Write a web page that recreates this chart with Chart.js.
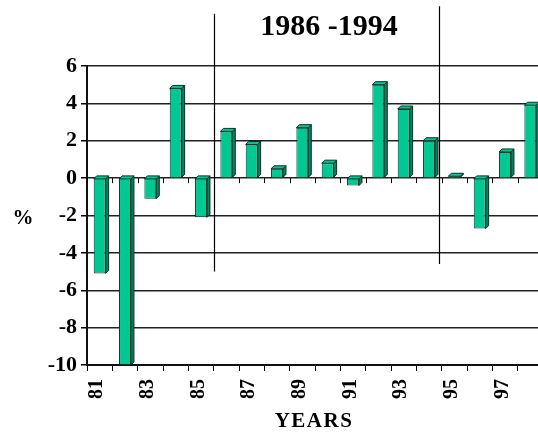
<!DOCTYPE html>
<html>
<head>
<meta charset="utf-8">
<script src="https://cdn.jsdelivr.net/npm/chart.js@4/dist/chart.umd.min.js"></script>
<style>
  html, body { margin: 0; padding: 0; background: #fff; overflow: hidden; }
  #wrap { width: 538px; height: 432px; overflow: hidden; }
  canvas { display: block; }
</style>
</head>
<body>
<div id="wrap"><canvas id="chart" width="546" height="432"></canvas></div>
<script>
// Annual change, per cent
const years = ['81','82','83','84','85','86','87','88','89','90','91','92','93','94','95','96','97','98'];
const changePct = [-5.1, -10, -1.1, 4.8, -2.1, 2.5, 1.8, 0.5, 2.7, 0.8, -0.4, 5.0, 3.7, 2.0, 0.1, -2.7, 1.4, 3.9];
const yTicks = [-10, -8, -6, -4, -2, 0, 2, 4, 6];

// Period marked by two vertical rules and a heading
const periodTitle = '1986 -1994';
const periodFrom = '85';
const periodTo = '94';

const SERIF = "'Liberation Serif', 'Times New Roman', serif";
const FACE = '#00C892';
const SIDE = '#00855C';
const EDGE = '#0E3026';
const DEPTH = 3;

const decor = {
  id: 'decor',
  beforeDatasetsDraw(chart) {
    const { ctx, scales: { x, y } } = chart;
    const zero = y.getPixelForValue(0);
    ctx.save();
    ctx.strokeStyle = '#000';
    ctx.lineWidth = 1;
    // category boundary ticks under the zero line
    for (let i = 0; i <= years.length; i++) {
      const px = Math.round(x.getPixelForValue(i - 0.5)) + 0.5;
      ctx.beginPath();
      ctx.moveTo(px, zero);
      ctx.lineTo(px, zero + 5);
      ctx.stroke();
    }
    ctx.restore();
  },
  afterDatasetsDraw(chart) {
    const { ctx, scales: { x, y } } = chart;
    const meta = chart.getDatasetMeta(0);
    ctx.save();
    ctx.lineWidth = 1;
    ctx.strokeStyle = EDGE;
    meta.data.forEach((bar) => {
      const p = bar.getProps(['x', 'y', 'base', 'width'], true);
      const l = p.x - p.width / 2, r = p.x + p.width / 2;
      const t = Math.min(p.y, p.base), b = Math.max(p.y, p.base);
      // side face
      ctx.fillStyle = SIDE;
      ctx.beginPath();
      ctx.moveTo(r, t); ctx.lineTo(r + DEPTH, t - DEPTH);
      ctx.lineTo(r + DEPTH, b - DEPTH); ctx.lineTo(r, b);
      ctx.closePath(); ctx.fill(); ctx.stroke();
      // top face
      ctx.fillStyle = FACE;
      ctx.beginPath();
      ctx.moveTo(l, t); ctx.lineTo(l + DEPTH, t - DEPTH);
      ctx.lineTo(r + DEPTH, t - DEPTH); ctx.lineTo(r, t);
      ctx.closePath(); ctx.fill(); ctx.stroke();
    });

    // period rules
    const i0 = years.indexOf(periodFrom), i1 = years.indexOf(periodTo);
    const xl = Math.round(x.getPixelForValue(i0 + 0.5)) + 0.5;
    const xr = Math.round(x.getPixelForValue(i1 + 0.38)) + 0.5;
    ctx.strokeStyle = '#000';
    ctx.lineWidth = 1.2;
    ctx.beginPath();
    ctx.moveTo(xl, y.getPixelForValue(8.8)); ctx.lineTo(xl, y.getPixelForValue(-5.0));
    ctx.moveTo(xr, y.getPixelForValue(9.2)); ctx.lineTo(xr, y.getPixelForValue(-4.6));
    ctx.stroke();

    // heading, "%" and axis title
    ctx.fillStyle = '#000';
    ctx.textBaseline = 'alphabetic';
    ctx.textAlign = 'center';
    ctx.font = `bold 30px ${SERIF}`;
    ctx.fillText(periodTitle, (xl + xr) / 2 + 2, 35);
    ctx.font = `bold 21px ${SERIF}`;
    ctx.fillText('%', 23, 224);
    ctx.letterSpacing = '1.5px';
    ctx.fillText('YEARS', (chart.chartArea.left + chart.chartArea.right) / 2 - 1, 427);
    ctx.restore();
  }
};

new Chart(document.getElementById('chart'), {
  type: 'bar',
  data: {
    labels: years,
    datasets: [{
      data: changePct,
      backgroundColor: FACE,
      borderColor: EDGE,
      borderWidth: 1,
      categoryPercentage: 1,
      barPercentage: 0.47
    }]
  },
  options: {
    responsive: false,
    animation: false,
    devicePixelRatio: 1,
    layout: { padding: { top: 66, right: 3, bottom: 0, left: 0 } },
    plugins: { legend: { display: false }, tooltip: { enabled: false }, title: { display: false } },
    scales: {
      x: {
        grid: { offset: true, drawOnChartArea: false, drawTicks: true, tickLength: 6, tickColor: '#000' },
        border: { display: true, color: '#111', width: 2 },
        ticks: {
          autoSkip: false,
          maxRotation: 90,
          minRotation: 90,
          labelOffset: -2.5,
          padding: 8,
          color: '#000',
          font: { family: SERIF, size: 20, weight: 'bold' },
          callback: (v, i) => (i % 2 === 0 ? years[i] : '')
        },
        afterFit: (s) => { s.height = 67; s.paddingLeft = 0; s.paddingRight = 0; }
      },
      y: {
        min: yTicks[0],
        max: yTicks[yTicks.length - 1],
        afterBuildTicks: (s) => { s.ticks = yTicks.map((v) => ({ value: v })); },
        grid: { color: '#222', lineWidth: 1.5, drawTicks: true, tickLength: 6, tickColor: '#000' },
        border: { display: true, color: '#111', width: 2 },
        ticks: {
          padding: 4,
          color: '#000',
          font: { family: SERIF, size: 22, weight: 'bold' }
        },
        afterFit: (s) => { s.width = 87; s.paddingTop = 0; s.paddingBottom = 0; }
      }
    }
  },
  plugins: [decor]
});
</script>
</body>
</html>
